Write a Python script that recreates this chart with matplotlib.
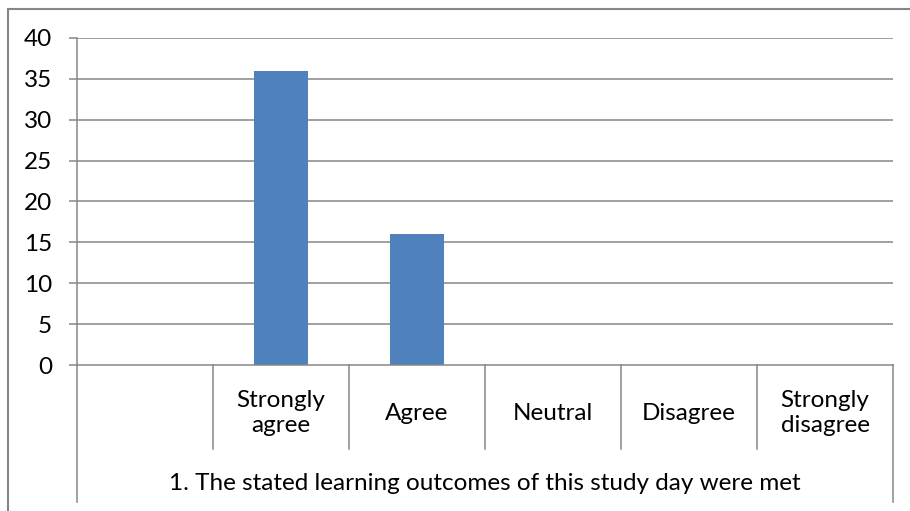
import matplotlib.pyplot as plt
from matplotlib.lines import Line2D
from matplotlib.transforms import blended_transform_factory

categories = ["", "Strongly\nagree", "Agree", "Neutral", "Disagree", "Strongly\ndisagree"]
counts = [0, 36, 16, 0, 0, 0]
y_ticks = [0, 5, 10, 15, 20, 25, 30, 35, 40]
group_label = "1. The stated learning outcomes of this study day were met"

BAR_COLOR = "#4F81BD"
LINE_COLOR = "#868686"
FS = 17.5

plt.rcParams["font.family"] = ["Lato", "DejaVu Sans"]

W, H = 910, 511
fig = plt.figure(figsize=(W / 100, H / 100), dpi=100)
ax = fig.add_axes([77 / W, (H - 365) / H, 816 / W, (365 - 38) / H])

x = list(range(len(categories)))
ax.bar(x, counts, width=0.4, color=BAR_COLOR, zorder=3)

ax.set_xlim(-0.5, len(categories) - 0.5)
ax.set_ylim(0, 40)
ax.set_yticks(y_ticks)
ax.set_xticks([])
ax.tick_params(axis="y", length=6, width=1.1, color=LINE_COLOR, pad=12,
               labelsize=FS)
for v in y_ticks[1:]:
    ax.axhline(v, color=LINE_COLOR, lw=1.1, zorder=1)

for s in ["top", "right"]:
    ax.spines[s].set_visible(False)
for s in ["left", "bottom"]:
    ax.spines[s].set_color(LINE_COLOR)
    ax.spines[s].set_linewidth(1.1)
    ax.spines[s].set_zorder(4)

# multi-level category axis
tr = blended_transform_factory(ax.transData, ax.transAxes)
inner_bottom = -(449 - 365) / (365 - 38)
outer_bottom = -(502 - 365) / (365 - 38)
for i in range(len(categories) + 1):
    xb = i - 0.5
    yb = outer_bottom if i in (0, len(categories)) else inner_bottom
    ax.add_line(Line2D([xb, xb], [0, yb], transform=tr, color=LINE_COLOR,
                       lw=1.1, clip_on=False))
for xi, lab in zip(x, categories):
    ax.text(xi, -(413 - 365) / (365 - 38), lab, transform=tr, ha="center",
            va="center", fontsize=FS, linespacing=1.2)
ax.text((len(categories) - 1) / 2, -(483 - 365) / (365 - 38), group_label,
        transform=tr, ha="center", va="center", fontsize=FS)

# chart border (cropped on right and bottom)
fig.add_artist(Line2D([8 / W, 1], [1 - 9 / H, 1 - 9 / H], transform=fig.transFigure,
                      color=LINE_COLOR, lw=1.5))
fig.add_artist(Line2D([8 / W, 8 / W], [0, 1 - 9 / H], transform=fig.transFigure,
                      color=LINE_COLOR, lw=1.5))

fig.savefig("out.png", dpi=100)
